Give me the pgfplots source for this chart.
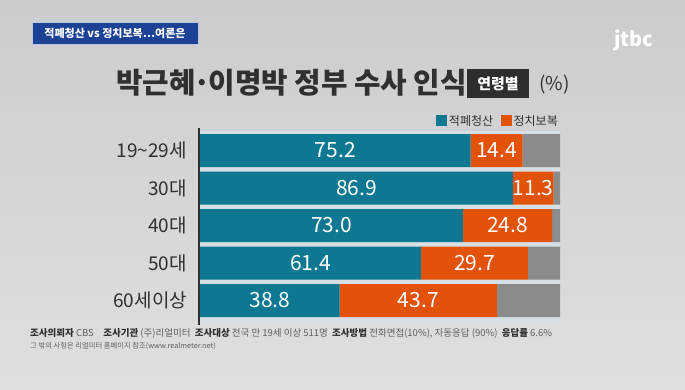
\documentclass[border=0pt]{standalone}
\usepackage{fontspec}
\setmainfont{Noto Sans CJK KR}
\usepackage{pgfplots}
\pgfplotsset{compat=1.18}
\usepackage{pgfplotstable}
\definecolor{tealbar}{RGB}{14,120,146}
\definecolor{orangebar}{RGB}{226,82,8}
\definecolor{graybar}{RGB}{138,139,141}
\definecolor{txt}{RGB}{48,48,50}
\definecolor{foot}{RGB}{95,95,98}
\definecolor{badge}{RGB}{28,66,150}
\definecolor{gapcol}{RGB}{214,224,228}
\definecolor{bgtop}{RGB}{202,204,208}
\definecolor{bgbot}{RGB}{222,223,225}
\pgfplotstableread{
y a alab b blab c
0 75.2 75.2 14.4 14.4 10.4
1 86.9 86.9 11.3 11.3 1.8
2 73.0 73.0 24.8 24.8 2.2
3 61.4 61.4 29.7 29.7 8.9
4 38.8 38.8 43.7 43.7 17.5
}\datatable
\pgfplotsset{
  common/.style={
    at={(200pt,69.75pt)}, anchor=south west,
    scale only axis, width=360pt, height=187.5pt,
    xmin=0, xmax=100, ymin=-0.5, ymax=4.5, y dir=reverse, clip=false},
  vallab/.style={draw=none, mark=none, forget plot,
    nodes near coords, point meta=explicit symbolic,
    every node near coord/.append style={anchor=center, text=white, inner sep=0pt,
      font=\fontsize{21}{21}\selectfont}}
}
\begin{document}
\begin{tikzpicture}[x=1pt,y=1pt]
\shade[top color=bgtop, bottom color=bgbot] (0,0) rectangle (685,389);
% badge
\node[fill=badge, draw=white!70!badge, line width=0.6pt, minimum width=166pt, minimum height=22pt, inner sep=0pt, text=white, font=\fontsize{11}{11}\selectfont\bfseries] at (115,356) {적폐청산 vs 정치보복…여론은};
% logo
\node[text=white, font=\fontsize{20}{20}\selectfont\bfseries, inner sep=0pt] at (634,349) {jtbc};
% title
\node[anchor=west, inner sep=0pt, text=txt, font=\fontsize{28.8}{28.8}\selectfont\bfseries] at (116,306) {박근혜\kern-0.08em·\kern-0.08em이명박 정부 수사 인식};
\node[fill=txt!95!black, minimum width=62pt, minimum height=29pt, inner sep=0pt, text=white, font=\fontsize{15}{15}\selectfont\bfseries] at (498,305.5) {연령별};
\node[anchor=west, inner sep=0pt, text=txt, font=\fontsize{19}{19}\selectfont] at (539,304) {(\%)};
% gap background
\fill[gapcol] (200,67.5) rectangle (560,258);
\begin{axis}[common,
  xbar stacked, bar width=33pt,
  axis line style={draw=none}, major tick length=0pt,
  xtick=\empty, ytick={0,1,2,3,4},
  yticklabels={19\textasciitilde29세,30대,40대,50대,60세이상},
  yticklabel style={text=txt, font=\fontsize{19}{19}\selectfont, xshift=-9.5pt},
  legend style={at={(1,1)}, anchor=south east, draw=none, fill=none,
    legend columns=2, font=\fontsize{12}{12}\selectfont, text=txt,
    /tikz/every even column/.append style={column sep=6pt},
    inner sep=0pt, yshift=3pt},
  legend image code/.code={\fill[#1,draw=none] (0pt,-5pt) rectangle (10.5pt,5.5pt);},
]
\addplot[fill=tealbar, draw=none, forget plot] table[x=a, y=y] {\datatable};
\addplot[fill=orangebar, draw=none, forget plot] table[x=b, y=y] {\datatable};
\addplot[fill=graybar, draw=none, forget plot] table[x=c, y=y] {\datatable};
\addlegendimage{fill=tealbar}
\addlegendentry{적폐청산}
\addlegendimage{fill=orangebar}
\addlegendentry{정치보복}
\end{axis}
\begin{axis}[common, hide axis]
\addplot[vallab] table[x expr=\thisrow{a}/2, y=y, meta=alab] {\datatable};
\addplot[vallab] table[x expr=\thisrow{a}+\thisrow{b}/2, y=y, meta=blab] {\datatable};
\end{axis}
\draw[line width=2pt, txt] (198.5,261) -- (198.5,64);
% footer
\node[anchor=west, inner sep=0pt, text=foot, font=\fontsize{9.5}{9.5}\selectfont] at (30,56) {{\bfseries\color{txt}조사의뢰자} CBS\quad {\bfseries\color{txt}조사기관} (주)리얼미터\ \ {\bfseries\color{txt}조사대상} 전국 만 19세 이상 511명\ \ {\bfseries\color{txt}조사방법} 전화면접(10\%), 자동응답 (90\%)\ \ {\bfseries\color{txt}응답률} 6.6\%};
\node[anchor=west, inner sep=0pt, text=foot, font=\fontsize{7.3}{7.3}\selectfont] at (30,43) {그 밖의 사항은 리얼미터 홈페이지 참조(www.realmeter.net)};
\end{tikzpicture}
\end{document}
